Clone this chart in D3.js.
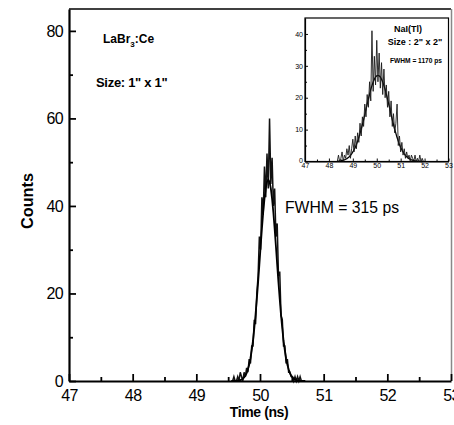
<!DOCTYPE html>
<html><head><meta charset="utf-8">
<script src="https://cdn.jsdelivr.net/npm/d3@7"></script>
<style>
html,body{margin:0;padding:0;background:#fff;}
svg{display:block;}
text{font-family:"Liberation Sans",Arial,sans-serif;}
</style>
</head><body>
<script>
// ---------- main LaBr3:Ce data ----------
const mainTime = [49.55,49.57,49.59,49.61,49.63,49.65,49.67,49.69,49.71,49.73,49.75,49.77,49.79,49.81,49.83,49.85,49.87,49.89,49.91,49.93,49.95,49.97,49.99,50.01,50.03,50.05,50.07,50.09,50.11,50.13,50.15,50.17,50.19,50.21,50.23,50.25,50.27,50.29,50.31,50.33,50.35,50.37,50.39,50.41,50.43,50.45,50.47,50.49,50.51,50.53,50.55,50.57,50.59,50.61,50.63,50.65,50.67,50.69,50.71];
const mainCounts = [0,0,1,0,0,1,0,2,1,0,2,1,3,2,5,4,8,8,14,13,20,24,33,30,42,38,49,42,52,44,60,45,51,40,44,33,36,24,25,15,14,8,8,4,5,2,2,1,1,0,1,0,1,0,1,0,0,0,0];
const mainFit = [0,0,0,0,0,0.1,0.1,0.2,0.3,0.5,0.8,1.2,1.8,2.7,3.7,5.2,7.0,9.2,12.0,15.1,18.7,22.5,26.6,30.8,34.8,38.5,41.6,44.0,45.5,46,45.5,44.0,41.6,38.5,34.8,30.8,26.6,22.5,18.7,15.1,12.0,9.2,7.0,5.2,3.7,2.7,1.8,1.2,0.8,0.5,0.3,0.2,0.1,0.1,0,0,0,0,0];
const mainXTicks = [47,48,49,50,51,52,53];
const mainXMinor = [47.5,48.5,49.5,50.5,51.5,52.5];
const mainYTicks = [0,20,40,60,80];
const mainYMinor = [10,30,50,70];

// ---------- inset NaI(Tl) data ----------
const insetTime = [48.35,48.40,48.45,48.50,48.55,48.60,48.65,48.70,48.75,48.80,48.85,48.90,48.95,49.00,49.05,49.10,49.15,49.20,49.25,49.30,49.35,49.40,49.45,49.50,49.55,49.60,49.65,49.70,49.75,49.80,49.85,49.90,49.95,50.00,50.05,50.10,50.15,50.20,50.25,50.30,50.35,50.40,50.45,50.50,50.55,50.60,50.65,50.70,50.75,50.80,50.85,50.90,50.95,51.00,51.05,51.10,51.15,51.20,51.25,51.30,51.35,51.40,51.45,51.50,51.55,51.60,51.65,51.70,51.75,51.80,51.85,51.90,51.95];
const insetCounts = [0,2,0,1,3,0,2,1,4,2,5,1,4,7,3,8,4,9,6,12,8,14,11,18,14,21,17,25,19,41,22,33,24,38,25,34,23,31,21,29,20,24,17,22,14,19,11,15,9,12,18,5,8,3,6,2,4,1,3,1,2,0,2,1,0,2,0,1,0,2,0,1,0];
const insetFit = [0.1,0.1,0.2,0.2,0.3,0.4,0.5,0.7,0.9,1.2,1.5,1.9,2.4,3.0,3.7,4.4,5.3,6.4,7.5,8.8,10.1,11.6,13.1,14.7,16.4,18.0,19.6,21.1,22.6,23.8,24.9,25.8,26.5,26.9,27.0,26.9,26.5,25.8,24.9,23.8,22.6,21.1,19.6,18.0,16.4,14.7,13.1,11.6,10.1,8.8,7.5,6.4,5.3,4.4,3.7,3.0,2.4,1.9,1.5,1.2,0.9,0.7,0.5,0.4,0.3,0.2,0.2,0.1,0.1,0.1,0,0,0];
const insetXTicks = [47,48,49,50,51,52,53];
const insetXMinor = [47.5,48.5,49.5,50.5,51.5,52.5];
const insetYTicks = [0,10,20,30,40];
const insetYMinor = [5,15,25,35];

const W = 454, H = 425;
const svg = d3.select("body").append("svg").attr("width", W).attr("height", H);

// ===== main plot =====
const x = d3.scaleLinear().domain([47,53]).range([69,451]);
const y = d3.scaleLinear().domain([0,85]).range([381,9]);

const lineMain = d3.line().x((d,i)=>x(mainTime[i])).y(d=>y(d));
svg.append("path").datum(mainCounts).attr("d", lineMain)
  .attr("fill","none").attr("stroke","#111").attr("stroke-width",1.5);
svg.append("path").datum(mainFit).attr("d", lineMain)
  .attr("fill","none").attr("stroke","#000").attr("stroke-width",1.8);

// frame top and right
svg.append("line").attr("x1",x(47)).attr("x2",x(53)).attr("y1",y(85)).attr("y2",y(85))
  .attr("stroke","#000").attr("stroke-width",1.5);
svg.append("line").attr("x1",x(53)+0.5).attr("x2",x(53)+0.5).attr("y1",y(85)).attr("y2",y(0))
  .attr("stroke","#888").attr("stroke-width",1.5);

function styleAxis(g, width, fs){
  g.select(".domain").attr("stroke","#000").attr("stroke-width",width);
  g.selectAll(".tick line").attr("stroke","#000").attr("stroke-width",width*0.8);
  g.selectAll(".tick text").attr("fill","#000").attr("font-size",fs)
    .attr("font-family",'"Liberation Sans",Arial,sans-serif');
}

const gx = svg.append("g").attr("transform",`translate(0,${y(0)})`)
  .call(d3.axisBottom(x).tickValues(mainXTicks).tickSize(-7).tickPadding(9).tickSizeOuter(0).tickFormat(d3.format("d")));
styleAxis(gx, 2.2, "16px");
gx.selectAll(".tick text").attr("letter-spacing","-0.6px");
const gxm = svg.append("g").attr("transform",`translate(0,${y(0)})`)
  .call(d3.axisBottom(x).tickValues(mainXMinor).tickSize(-4).tickFormat(""));
gxm.select(".domain").remove();
gxm.selectAll(".tick line").attr("stroke","#000").attr("stroke-width",1.8);

const gy = svg.append("g").attr("transform",`translate(${x(47)},0)`)
  .call(d3.axisLeft(y).tickValues(mainYTicks).tickSize(-7).tickPadding(6).tickSizeOuter(0).tickFormat(d3.format("d")));
styleAxis(gy, 2.2, "16px");
gy.selectAll(".tick text").attr("letter-spacing","-0.6px");
const gym = svg.append("g").attr("transform",`translate(${x(47)},0)`)
  .call(d3.axisLeft(y).tickValues(mainYMinor).tickSize(-4).tickFormat(""));
gym.select(".domain").remove();
gym.selectAll(".tick line").attr("stroke","#000").attr("stroke-width",1.8);

// axis titles
svg.append("text").attr("x",259).attr("y",417).attr("text-anchor","middle")
  .attr("font-size","14px").attr("font-weight","bold").attr("letter-spacing","-0.4px").text("Time (ns)");
svg.append("text").attr("transform","translate(33,201) rotate(-90)").attr("text-anchor","middle")
  .attr("font-size","16px").attr("font-weight","bold")
  .attr("textLength",56).attr("lengthAdjust","spacingAndGlyphs").text("Counts");

// annotations
const lab = svg.append("text").attr("x",103).attr("y",43)
  .attr("font-size","12px").attr("font-weight","bold");
lab.append("tspan").text("LaBr");
lab.append("tspan").attr("dy",4).attr("font-size","8px").text("3");
lab.append("tspan").attr("dy",-4).text(":Ce");
svg.append("text").attr("x",96).attr("y",87)
  .attr("font-size","13px").attr("font-weight","bold").attr("letter-spacing","-0.3px").text("Size: 1\" x 1\"");
svg.append("text").attr("x",285).attr("y",213)
  .attr("font-size","17px")
  .attr("textLength",114).attr("lengthAdjust","spacingAndGlyphs").text("FWHM  = 315 ps");

// ===== inset =====
const ix = d3.scaleLinear().domain([47,53]).range([305,448.5]);
const iy = d3.scaleLinear().domain([0,45]).range([161.5,18]);
svg.append("rect").attr("x",ix(47)).attr("y",iy(45)).attr("width",ix(53)-ix(47)).attr("height",iy(0)-iy(45))
  .attr("fill","#fff").attr("stroke","#000").attr("stroke-width",1.2);

const lineIn = d3.line().x((d,i)=>ix(insetTime[i])).y(d=>iy(d));
svg.append("path").datum(insetFit).attr("d", lineIn)
  .attr("fill","none").attr("stroke","#000").attr("stroke-width",1.3);
svg.append("path").datum(insetCounts).attr("d", lineIn)
  .attr("fill","none").attr("stroke","#1a1a1a").attr("stroke-width",0.9);

const igx = svg.append("g").attr("transform",`translate(0,${iy(0)})`)
  .call(d3.axisBottom(ix).tickValues(insetXTicks).tickSize(-3).tickPadding(2).tickSizeOuter(0).tickFormat(d3.format("d")));
styleAxis(igx, 1.2, "7px");
const igxm = svg.append("g").attr("transform",`translate(0,${iy(0)})`)
  .call(d3.axisBottom(ix).tickValues(insetXMinor).tickSize(-2).tickFormat(""));
igxm.select(".domain").remove();
igxm.selectAll(".tick line").attr("stroke","#000");

const igy = svg.append("g").attr("transform",`translate(${ix(47)},0)`)
  .call(d3.axisLeft(iy).tickValues(insetYTicks).tickSize(-3).tickPadding(2).tickSizeOuter(0).tickFormat(d3.format("d")));
styleAxis(igy, 1.2, "7px");
igy.selectAll(".tick text").filter(d=>d===0).attr("dy","0.1em");
const igym = svg.append("g").attr("transform",`translate(${ix(47)},0)`)
  .call(d3.axisLeft(iy).tickValues(insetYMinor).tickSize(-2).tickFormat(""));
igym.select(".domain").remove();
igym.selectAll(".tick line").attr("stroke","#000");

svg.append("text").attr("x",408).attr("y",32).attr("text-anchor","middle")
  .attr("font-size","9px").attr("font-weight","bold").text("NaI(Tl)");
svg.append("text").attr("x",415).attr("y",45).attr("text-anchor","middle")
  .attr("font-size","9px").attr("font-weight","bold").text("Size : 2\" x 2\"");
svg.append("text").attr("x",390).attr("y",63)
  .attr("font-size","7px").attr("font-weight","bold")
  .attr("textLength",52).attr("lengthAdjust","spacingAndGlyphs").text("FWHM = 1170 ps");
</script>
</body></html>
